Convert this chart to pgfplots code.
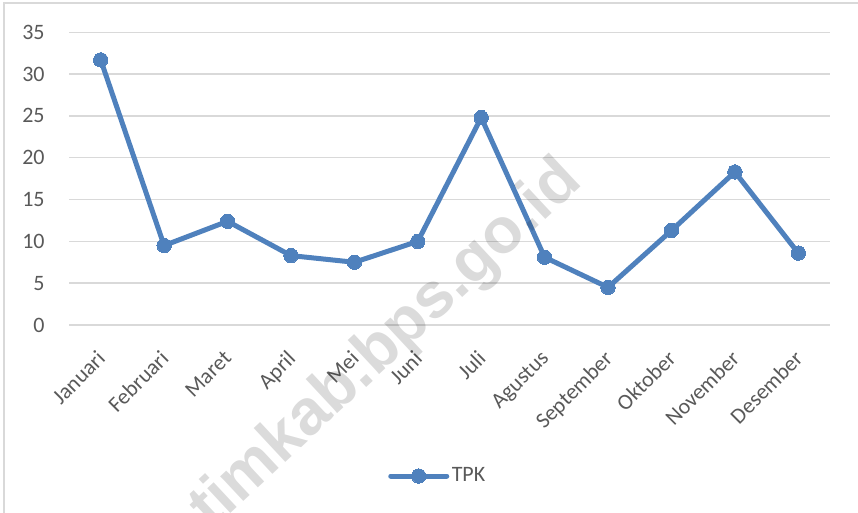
\documentclass[border=0pt]{standalone}
\usepackage{fontspec}
\setmainfont{Carlito}
\newfontfamily\wmfont{Liberation Sans}
\usepackage{pgfplots}
\pgfplotsset{compat=1.18}

\definecolor{tpkblue}{HTML}{4F81BD}
\definecolor{gridgray}{HTML}{D9D9D9}
\definecolor{labelgray}{HTML}{595959}

\begin{document}
\begin{tikzpicture}
    \begin{axis}[
        % Placement and size (1 px of the reference = 0.5bp)
        at              = {(34.5bp,94bp)},
        anchor          = south west,
        scale only axis,
        width           = 380.5bp,
        height          = 146.35bp,
        clip            = false,
        % Axes
        xmin = -0.5,
        xmax = 11.5,
        ymin = 0,
        ymax = 35,
        xtick       = data,
        xticklabels = {Januari, Februari, Maret, April, Mei, Juni, Juli,
                       Agustus, September, Oktober, November, Desember},
        ytick       = {0,5,...,35},
        axis line style   = {draw=none},
        major tick length = 0pt,
        % Grid
        ymajorgrids = true,
        grid style  = {gridgray, line width=0.75bp},
        % Labels
        /pgf/number format/assume math mode = true,
        tick label style  = {font=\fontsize{11bp}{13bp}\selectfont, text=labelgray},
        yticklabel style  = {anchor=east, inner sep=0pt, xshift=-12bp},
        xticklabel style  = {xshift=-2.5bp, yshift=-12bp, rotate=45,
                             anchor=north east, inner sep=0pt},
        % Legend
        legend style = {
            at     = {(0.419,-0.516)},
            anchor = west,
            draw   = none,
            fill   = none,
            inner sep = 0pt,
            font   = \fontsize{11bp}{13bp}\selectfont,
            text   = labelgray,
            nodes  = {inner sep=1.25bp}
        },
        legend image code/.code={
            \draw[mark repeat=2, mark phase=2, #1]
                plot coordinates {(0bp,0bp) (14bp,0bp) (28bp,0bp)};
        }
    ]

        % TPK
        \addplot[
            color      = tpkblue,
            line width = 2.5bp,
            line join  = round,
            line cap   = round,
            mark       = *,
            mark size  = 3.6bp,
            mark options = {fill=tpkblue, draw=tpkblue, line width=0pt}
        ] coordinates {
            (0, 31.7)
            (1,  9.5)
            (2, 12.4)
            (3,  8.3)
            (4,  7.5)
            (5, 10.0)
            (6, 24.8)
            (7,  8.1)
            (8,  4.5)
            (9, 11.3)
            (10, 18.3)
            (11,  8.6)
        };

        \legend{TPK}
    \end{axis}

    % Chart area border (left and top edges visible)
    \draw[gridgray, line width=0.75bp] (2bp,0bp) -- (2bp,255bp) -- (429bp,255bp);

    % Watermark
    \node[rotate=43, anchor=base west, inner sep=0pt, text=black, opacity=0.14,
          font=\wmfont\bfseries\fontsize{32bp}{32bp}\selectfont]
        at (106bp,-9bp) {timkab.bps.go.id};

    \pgfresetboundingbox
    \useasboundingbox (0bp,0bp) rectangle (429bp,256.5bp);
\end{tikzpicture}
\end{document}
